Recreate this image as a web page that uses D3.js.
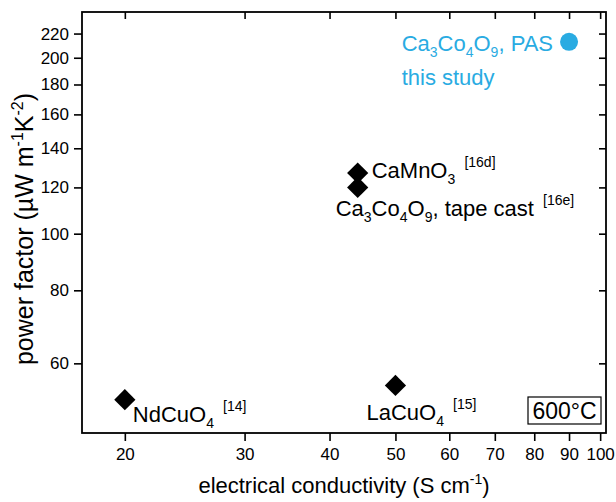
<!DOCTYPE html>
<html><head><meta charset="utf-8">
<script src="https://cdn.jsdelivr.net/npm/d3@7"></script>
<style>body{margin:0;background:#fff;} svg text{font-family:"Liberation Sans",Arial,sans-serif;}</style>
</head><body><svg id="c" width="616" height="502"></svg>
<script>
const materials = ["NdCuO4", "LaCuO4", "CaMnO3", "Ca3Co4O9 tape cast", "Ca3Co4O9 PAS"];
const conductivity = [20, 50, 44, 44, 90];
const powerFactor = [52, 55, 127, 120, 213];
const studyFlag = [false, false, false, false, true];
const xTicks = [20, 30, 40, 50, 60, 70, 80, 90, 100];
const yTicks = [60, 80, 100, 120, 140, 160, 180, 200, 220];
// rich label parts: [text, kind] kind: n normal, b subscript, p superscript
const labelParts = [
  [["NdCuO","n"],["4","b"],[" ","n"],["[14]","p"]],
  [["LaCuO","n"],["4","b"],[" ","n"],["[15]","p"]],
  [["CaMnO","n"],["3","b"],[" ","n"],["[16d]","p"]],
  [["Ca","n"],["3","b"],["Co","n"],["4","b"],["O","n"],["9","b"],[", tape cast ","n"],["[16e]","p"]],
  [["Ca","n"],["3","b"],["Co","n"],["4","b"],["O","n"],["9","b"],[", PAS","n"]]
];
const noteText = "this study";
const tempText = "600°C";

const svg = d3.select("#c");
const L = 82, R = 606, T = 12, B = 433;
const x = d3.scaleLog().domain([17.3, 102]).range([L, R]);
const y = d3.scaleLog().domain([45.6, 239.5]).range([B, T]);
const blue = "#29abe2";

const fmt = d3.format("d");
const gx = svg.append("g").attr("transform", `translate(0,${B})`)
  .call(d3.axisBottom(x).tickValues(xTicks).tickFormat(fmt).tickSize(8).tickPadding(6));
const gy = svg.append("g").attr("transform", `translate(${L},0)`)
  .call(d3.axisLeft(y).tickValues(yTicks).tickFormat(fmt).tickSize(8).tickPadding(5));
const gt = svg.append("g").attr("transform", `translate(0,${T})`)
  .call(d3.axisTop(x).tickValues(xTicks).tickFormat("").tickSize(-7));
const gr = svg.append("g").attr("transform", `translate(${R},0)`)
  .call(d3.axisRight(y).tickValues(yTicks).tickFormat("").tickSize(-7));
[gx, gy, gt, gr].forEach(g => {
  g.select(".domain").remove();
  g.selectAll(".tick line").attr("stroke", "#000").attr("stroke-width", 1.6);
  g.selectAll(".tick text").attr("fill", "#000").style("font-size", "17px");
});
gx.selectAll(".tick text").attr("dy", "0.75em");
svg.append("rect").attr("x", L).attr("y", T).attr("width", R - L).attr("height", B - T)
  .attr("fill", "none").attr("stroke", "#000").attr("stroke-width", 1.8);

// axis titles
const xt = svg.append("text").attr("x", (L + R) / 2).attr("y", 493).attr("text-anchor", "middle")
  .style("font-size", "22px").attr("fill", "#000");
xt.append("tspan").text("electrical conductivity (S cm");
xt.append("tspan").text("-1").style("font-size", "14px").attr("dy", -9);
xt.append("tspan").text(")").attr("dy", 9);

const yt = svg.append("text").attr("transform", "translate(33,229) rotate(-90)").attr("text-anchor", "middle")
  .style("font-size", "25px").attr("fill", "#000");
yt.append("tspan").text("power factor (\u00b5W m");
yt.append("tspan").text("-1").style("font-size", "16px").attr("dy", -10);
yt.append("tspan").text("K").attr("dy", 10);
yt.append("tspan").text("-2").style("font-size", "16px").attr("dy", -10);
yt.append("tspan").text(")").attr("dy", 10);

// markers
const diamond = d3.symbol().type(d3.symbolSquare).size(225);
conductivity.forEach((c, i) => {
  if (studyFlag[i]) {
    svg.append("circle").attr("cx", x(c)).attr("cy", y(powerFactor[i])).attr("r", 9).attr("fill", blue);
  } else {
    svg.append("path").attr("d", diamond)
      .attr("transform", `translate(${x(c)},${y(powerFactor[i])}) rotate(45)`).attr("fill", "#000");
  }
});

// labels
const offsets = [[8, 22], [-29, 35], [14, 5], [-22, 29], [-16, 9]];
function rich(sel, parts) {
  let shift = 0;
  parts.forEach(([t, k]) => {
    const target = k === "b" ? 6 : k === "p" ? -11 : 0;
    const ts = sel.append("tspan").text(t).attr("dy", target - shift);
    if (k !== "n") ts.style("font-size", "14px");
    if (k === "p") ts.attr("dx", 3);
    shift = target;
  });
}
labelParts.forEach((parts, i) => {
  const px = x(conductivity[i]), py = y(powerFactor[i]);
  const t = svg.append("text").attr("x", px + offsets[i][0]).attr("y", py + offsets[i][1])
    .style("font-size", "22px").attr("fill", studyFlag[i] ? blue : "#000")
    .attr("text-anchor", studyFlag[i] ? "end" : "start");
  rich(t, parts);
  if (studyFlag[i]) {
    const bb = t.node().getBBox();
    svg.append("text").attr("x", bb.x).attr("y", py + offsets[i][1] + 34)
      .style("font-size", "22px").attr("fill", blue).text(noteText);
  }
});

// temperature box
svg.append("rect").attr("x", 528).attr("y", 397).attr("width", 73).attr("height", 27)
  .attr("fill", "#fff").attr("stroke", "#000").attr("stroke-width", 1.2);
svg.append("text").attr("x", 564.5).attr("y", 419).attr("text-anchor", "middle")
  .style("font-size", "23px").attr("fill", "#000").text(tempText);
</script></body></html>
